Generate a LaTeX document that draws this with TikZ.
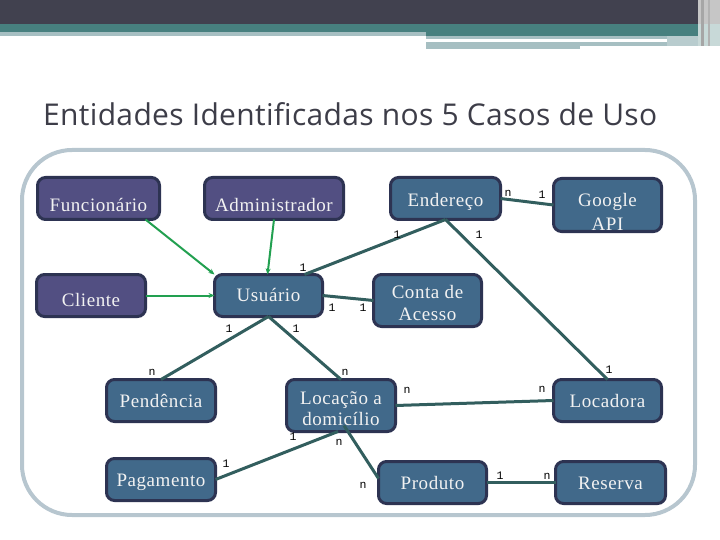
\documentclass[tikz,border=0pt]{standalone}
\usepackage{fontspec}
\setmainfont{Liberation Serif}[LetterSpace=3]
\newfontfamily\titlefont{Open Sans}[LetterSpace=1.1]
\newfontfamily\labfont{Liberation Mono}
\usetikzlibrary{calc,arrows.meta}
\definecolor{darkband}{HTML}{41414F}
\definecolor{tealband}{HTML}{47807F}
\definecolor{lightband}{HTML}{A6BFC2}
\definecolor{framecol}{HTML}{B7C6CF}
\definecolor{purplefill}{HTML}{524F82}
\definecolor{bluefill}{HTML}{41698A}
\definecolor{bordercol}{HTML}{2D3352}
\definecolor{edgecol}{HTML}{325E5E}
\definecolor{greencol}{HTML}{22A050}
\definecolor{titlecol}{HTML}{3D3D48}
\tikzset{
  ent/.style={draw=bordercol, line width=3pt, rounded corners=8pt, text=white!95!black,
    font=\fontsize{19}{21.5}\selectfont, inner sep=0pt, outer sep=0pt},
  one/.style={text height=#1, text depth=0pt},
  two/.style={align=center},
  actor/.style={ent, fill=purplefill},
  thing/.style={ent, fill=bluefill},
  rel/.style={draw=edgecol, line width=3pt},
  gen/.style={draw=greencol, line width=2pt, -{Stealth[length=6pt,width=5pt]}},
  card/.style={font=\labfont\fontsize{11.5}{11.5}\selectfont, inner sep=0pt, text=black}
}
\begin{document}
\begin{tikzpicture}[x=1pt,y=-1pt]
\useasboundingbox (0,0) rectangle (720,540);
% banner
\fill[darkband] (0,0) rectangle (720,24);
\fill[tealband] (0,24) rectangle (720,32);
\fill[tealband] (426,32) rectangle (720,36);
\fill[lightband] (0,32) rectangle (426,36);
\fill[lightband] (426,36) rectangle (667,39);
\fill[lightband] (426,42) rectangle (667,46);
\fill[lightband] (426,46) rectangle (580,49);
\fill[lightband!80!white] (667,36) rectangle (698,46);
\fill[gray!45] (698,0) rectangle (720,24);
\fill[tealband!30!white] (698,24) rectangle (720,46);
\fill[gray!70] (701,0) rectangle (704,46);
\fill[gray!60] (708,0) rectangle (709.5,46);
% title
\node[anchor=base west, text=titlecol, inner sep=0pt, font=\titlefont\fontsize{30}{30}\selectfont] (title) at (43,126) {Entidades Identificadas nos 5 Casos de Uso};
% frame
\draw[framecol, line width=4pt, rounded corners=50pt] (22,150) rectangle (695,515);
% nodes
\node[actor, one=25.5pt, minimum width=122pt, minimum height=42pt] (func) at (98.5,198.5) {Funcionário};
\node[actor, one=25.5pt, minimum width=139pt, minimum height=42pt] (adm) at (274,198.5) {Administrador};
\node[actor, one=21.5pt, minimum width=109pt, minimum height=42pt] (cli) at (91,295.5) {Cliente};
\node[thing, one=12.5pt, minimum width=108pt, minimum height=42pt] (usu) at (268.5,295.5) {Usuário};
\node[thing, one=16.5pt, minimum width=110pt, minimum height=42pt] (end) at (445.5,198.5) {Endereço};
\node[thing, two, minimum width=108pt, minimum height=53pt] (goo) at (607.5,205) {\rule{0pt}{27.6pt}Google\\[2.5pt]API};
\node[thing, two, minimum width=108pt, minimum height=52pt] (conta) at (427.5,300.5) {\rule{0pt}{18.1pt}Conta de\\[1pt]Acesso};
\node[thing, one=14.5pt, minimum width=109pt, minimum height=42pt] (pend) at (161,400.5) {Pendência};
\node[thing, two, minimum width=109pt, minimum height=52pt] (loc) at (341,405.5) {\rule{0pt}{19.6pt}Locação a\\[-0.5pt]domicílio};
\node[thing, one=13.5pt, minimum width=109pt, minimum height=42pt] (pag) at (161,479.5) {Pagamento};
\node[thing, one=14.5pt, minimum width=108pt, minimum height=42pt] (prod) at (432.5,482.5) {Produto};
\node[thing, one=14.5pt, minimum width=108pt, minimum height=42pt] (locad) at (607.5,400.5) {Locadora};
\node[thing, one=14.5pt, minimum width=110pt, minimum height=42pt] (res) at (610.5,482.5) {Reserva};
% generalisation arrows
\draw[gen] ($(func.south east)+(-14,0)$) -- (usu.north west);
\draw[gen] (adm.south) -- ($(usu.north)+(-1,0)$);
\draw[gen] (cli.east) -- (usu.west);
% relationships
\draw[rel] ($(usu.north)+(36,0)$) -- (end.south);
\draw[rel] (end.east) -- (goo.west);
\draw[rel] (end.south) -- (locad.north);
\draw[rel] (usu.east) -- (conta.west);
\draw[rel] (usu.south) -- (pend.north);
\draw[rel] (usu.south) -- (loc.north);
\draw[rel] (loc.east) -- (locad.west);
\draw[rel] ($(loc.south)+(-3,0)$) -- (pag.east);
\draw[rel] ($(loc.center)+(3,20)$) -- ($(prod.west)+(0,-4)$);
\draw[rel] (prod.east) -- (res.west);
% cardinalities
\node[card] (c1) at (303,268) {1};
\node[card] (c2) at (397,235) {1};
\node[card] (c3) at (508,193) {n};
\node[card] (c4) at (542,195) {1};
\node[card] (c5) at (479,235) {1};
\node[card] (c6) at (609,370) {1};
\node[card] (c7) at (332,308) {1};
\node[card] (c8) at (363,308) {1};
\node[card] (c9) at (229,329) {1};
\node[card] (c10) at (296,329) {1};
\node[card] (c11) at (152,372) {n};
\node[card] (c12) at (345,372) {n};
\node[card] (c13) at (407,390) {n};
\node[card] (c14) at (542,389) {n};
\node[card] (c15) at (293,437) {1};
\node[card] (c16) at (339,442) {n};
\node[card] (c17) at (226,464) {1};
\node[card] (c18) at (363,485) {n};
\node[card] (c19) at (500,476) {1};
\node[card] (c20) at (547,476) {n};
\end{tikzpicture}
\end{document}
